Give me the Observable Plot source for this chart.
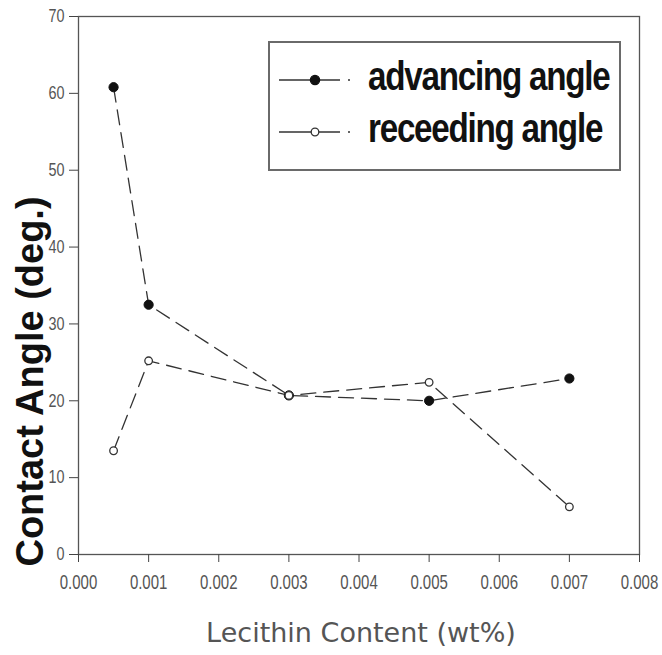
<!DOCTYPE html>
<html>
<head>
<meta charset="utf-8">
<script src="https://cdn.jsdelivr.net/npm/d3@7"></script>
<script src="https://cdn.jsdelivr.net/npm/@observablehq/plot@0.6"></script>
<style>
  html, body { margin: 0; padding: 0; background: #fff; }
  #wrap { position: relative; width: 662px; height: 655px; }
  #legend {
    position: absolute; left: 268px; top: 41px; width: 349px; height: 126px;
    border: 2px solid #6a6a6a; background: #fff; box-sizing: content-box;
  }
  .lrow { position: absolute; left: 0; height: 40px; width: 100%; }
  .lrow svg { position: absolute; left: 0; top: 0; }
  .lrow span {
    position: absolute; left: 98px; top: -4px;
    font-family: "Liberation Sans", Arial, sans-serif;
    font-weight: bold; font-size: 40px; letter-spacing: -1.5px; color: #111;
    line-height: 40px; white-space: nowrap;
    transform: scaleX(0.83); transform-origin: 0 50%;
  }
</style>
</head>
<body>
<div id="wrap"></div>
<script>
// ---- data ----
const lecithin = [0.0005, 0.001, 0.003, 0.005, 0.007];
const advancingAngle = [60.8, 32.5, 20.7, 20.0, 22.9];
const recedingAngle = [13.5, 25.2, 20.7, 22.4, 6.2];
const seriesNames = ["advancing angle", "receeding angle"];
const xTicks = [0, 0.001, 0.002, 0.003, 0.004, 0.005, 0.006, 0.007, 0.008];
const yTicks = [0, 10, 20, 30, 40, 50, 60, 70];
const xTitle = "Lecithin Content (wt%)";
const yTitle = "Contact Angle (deg.)";

const rows = lecithin.flatMap((x, i) => [
  {series: seriesNames[0], x, y: advancingAngle[i]},
  {series: seriesNames[1], x, y: recedingAngle[i]}
]);
const adv = rows.filter(d => d.series === seriesNames[0]);
const rec = rows.filter(d => d.series === seriesNames[1]);

const sans = '"Liberation Sans", Arial, sans-serif';
const lineColor = "#333";
const dash = "15,8";

const chart = Plot.plot({
  width: 662,
  height: 655,
  marginLeft: 78,
  marginRight: 23,
  marginTop: 16,
  marginBottom: 101,
  style: {fontFamily: sans, background: "#fff"},
  x: {domain: [0, 0.008]},
  y: {domain: [0, 70]},
  marks: [
    Plot.frame({stroke: "#555", strokeWidth: 1.3}),
    Plot.axisY({ticks: yTicks, tickSize: 9, tickPadding: 5, fontSize: 18, fill: "#555", stroke: "#444", label: null, tickFormat: d => String(d)}),
    Plot.axisX({ticks: xTicks, tickSize: 8, tickPadding: 12, fontSize: 20, fill: "#555", stroke: "#444", label: null, tickFormat: d3.format(".3f")}),
    Plot.line(adv, {x: "x", y: "y", stroke: lineColor, strokeWidth: 1.3, strokeDasharray: dash}),
    Plot.line(rec, {x: "x", y: "y", stroke: lineColor, strokeWidth: 1.3, strokeDasharray: dash}),
    Plot.dot(adv, {x: "x", y: "y", r: 4.6, fill: "#111", stroke: "#111", strokeWidth: 1}),
    Plot.dot(rec, {x: "x", y: "y", r: 3.8, fill: "#fff", stroke: "#333", strokeWidth: 1.3}),
    Plot.text([yTitle], {text: d => d, frameAnchor: "left", textAnchor: "middle", dx: -48, dy: 96, rotate: -90,
      fontSize: 38, fontWeight: "bold", fill: "#111", fontFamily: sans}),
    Plot.text([xTitle], {text: d => d, frameAnchor: "bottom", dx: 2, dy: 87,
      fontSize: 27, fill: "#555", fontFamily: '"DejaVu Sans", sans-serif'})
  ]
});

// condense the tick labels horizontally, as in the reference
d3.select(chart).selectAll('g[aria-label="x-axis tick label"] text')
  .attr("transform", function() { return (this.getAttribute("transform") || "") + " scale(0.75,1)"; });
d3.select(chart).selectAll('g[aria-label="y-axis tick label"] text')
  .attr("transform", function() { return (this.getAttribute("transform") || "") + " scale(0.8,1)"; });

const wrap = document.getElementById("wrap");
wrap.appendChild(chart);

// ---- legend (HTML overlay) ----
const legend = d3.select(wrap).append("div").attr("id", "legend");
const rowTops = [17, 69];
seriesNames.forEach((name, i) => {
  const row = legend.append("div").attr("class", "lrow").style("top", rowTops[i] + "px");
  const svg = row.append("svg").attr("width", 95).attr("height", 40);
  svg.append("line").attr("x1", 9).attr("x2", 82).attr("y1", 20).attr("y2", 20)
    .attr("stroke", lineColor).attr("stroke-width", 1.3).attr("stroke-dasharray", "61,8,2");
  svg.append("circle").attr("cx", 45).attr("cy", 20).attr("r", i === 0 ? 4.6 : 3.8)
    .attr("fill", i === 0 ? "#111" : "#fff").attr("stroke", i === 0 ? "#111" : "#333").attr("stroke-width", 1.3);
  row.append("span").text(name);
});
</script>
</body>
</html>
